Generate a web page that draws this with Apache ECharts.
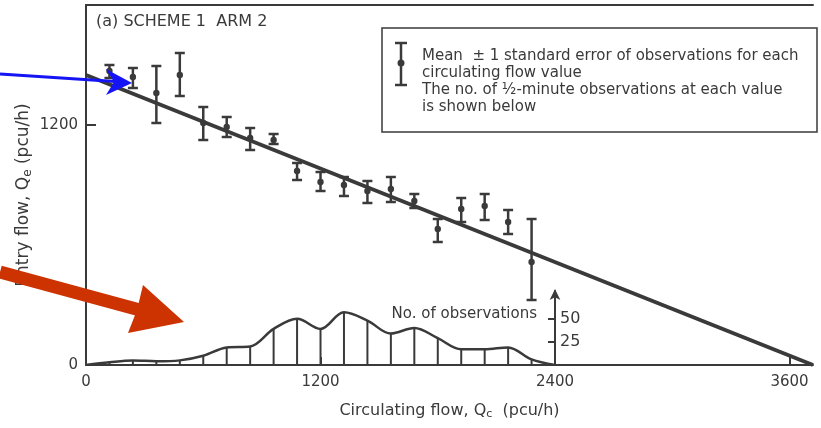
<!DOCTYPE html>
<html>
<head>
<meta charset="UTF-8">
<title>Scheme 1 Arm 2</title>
<script src="https://cdn.jsdelivr.net/npm/echarts@6/dist/echarts.min.js"></script>
</head>
<body style="margin:0;background:#fff">
<div id="chart" style="width:821px;height:428px;"></div>
<script>
// circulating flow values (pcu/h) with mean entry flow +- 1 s.e.
var flowC = [120, 240, 360, 480, 600, 720, 840, 960, 1080, 1200, 1320, 1440, 1560, 1680, 1800, 1920, 2040, 2160, 2280];
var meanE = [1470, 1440, 1360, 1450, 1210, 1190, 1135, 1125, 970, 915, 900, 870, 880, 820, 680, 780, 795, 715, 515];
var lowE  = [1435, 1385, 1210, 1345, 1125, 1140, 1075, 1105, 925, 870, 845, 810, 815, 785, 615, 715, 725, 655, 325];
var highE = [1500, 1485, 1495, 1560, 1290, 1240, 1185, 1155, 1010, 965, 940, 920, 940, 855, 730, 835, 855, 775, 730];

// number of half-minute observations at each value
var histC = [0, 120, 240, 360, 480, 600, 720, 840, 960, 1080, 1200, 1320, 1440, 1560, 1680, 1800, 1920, 2040, 2160, 2280, 2400];
var histN = [0, 3, 5, 4, 5, 10, 19, 20, 39, 50, 39, 57, 48, 34, 40, 29, 17, 17, 19, 6, 0];

// fitted straight line
var fitC = [0, 3720];
var fitE = [1450, 0];

var xTicks = [0, 1200, 2400, 3600];
var yTicks = [0, 1200];
var nTicks = [25, 50];

var ink = '#3a3a3a';
var font = 'DejaVu Sans';
var plain = function (v) { return String(v); };

var myChart = echarts.init(document.getElementById('chart'));

var errData = flowC.map(function (c, i) { return [c, lowE[i], highE[i], meanE[i]]; });
var fitData = fitC.map(function (c, i) { return [c, fitE[i]]; });
var histData = histC.map(function (c, i) { return [c, histN[i]]; });

var option = {
    animation: false,
    backgroundColor: '#fff',
    textStyle: { fontFamily: font, color: ink },
    title: {
        text: '(a) SCHEME 1  ARM 2',
        left: 96, top: 14, padding: 0,
        textStyle: { fontSize: 16, fontWeight: 'normal', color: ink, fontFamily: font }
    },
    grid: [
        { left: 86, right: 8, top: 5, bottom: 63 },
        { left: 86, right: 8, top: 291, bottom: 63 }
    ],
    xAxis: [{
        gridIndex: 0, type: 'value', min: 0, max: 3720, position: 'bottom',
        axisLine: { lineStyle: { color: ink, width: 2 } },
        axisTick: { inside: true, length: 8, customValues: [1200, 2400, 3600], lineStyle: { color: ink, width: 2 } },
        axisLabel: { customValues: xTicks, formatter: plain, fontSize: 15, color: ink, margin: 10 },
        splitLine: { show: false },
        name: 'Circulating flow, Q{s|c}  (pcu/h)',
        nameLocation: 'middle', nameGap: 37,
        nameTextStyle: { fontSize: 16, color: ink, rich: { s: { fontSize: 11, padding: [7, 0, 0, 0] } } }
    }, {
        gridIndex: 0, type: 'value', min: 0, max: 3720, position: 'top',
        axisLine: { lineStyle: { color: ink, width: 2 } },
        axisTick: { show: false }, axisLabel: { show: false }, splitLine: { show: false }
    }, {
        gridIndex: 1, type: 'value', min: 0, max: 3720, show: false
    }],
    yAxis: [{
        gridIndex: 0, type: 'value', min: 0, max: 1800,
        axisLine: { lineStyle: { color: ink, width: 2 } },
        axisTick: { inside: true, length: 10, customValues: [1200], lineStyle: { color: ink, width: 2 } },
        axisLabel: { customValues: yTicks, formatter: plain, fontSize: 15, color: ink, margin: 8 },
        splitLine: { show: false },
        name: 'Entry flow, Q{s|e} (pcu/h)',
        nameLocation: 'middle', nameGap: 52, nameMoveOverlap: false,
        nameTextStyle: { fontSize: 17, color: ink, padding: [0, 20, 0, 0], rich: { s: { fontSize: 12, padding: [8, 0, 0, 0] } } }
    }, {
        gridIndex: 1, type: 'value', min: 0, max: 80, position: 'left', offset: -469,
        axisLine: { show: true, symbol: ['none', 'arrow'], symbolSize: [8, 11], symbolOffset: [0, 2], lineStyle: { color: ink, width: 2 } },
        axisTick: { show: true, inside: false, length: 7, customValues: nTicks, lineStyle: { color: ink, width: 2 } },
        axisLabel: { show: true, inside: true, customValues: nTicks, fontSize: 16, color: ink, margin: 5 },
        splitLine: { show: false }
    }],
    series: [{
        type: 'line', xAxisIndex: 0, yAxisIndex: 0,
        data: fitData, symbol: 'none',
        lineStyle: { color: ink, width: 4 }, z: 2
    }, {
        type: 'custom', xAxisIndex: 0, yAxisIndex: 0,
        data: errData, z: 3,
        renderItem: function (params, api) {
            var lo = api.coord([api.value(0), api.value(1)]);
            var hi = api.coord([api.value(0), api.value(2)]);
            var m = api.coord([api.value(0), api.value(3)]);
            var cap = 5;
            var st = { stroke: ink, lineWidth: 2.5 };
            return {
                type: 'group',
                children: [
                    { type: 'line', shape: { x1: lo[0], y1: lo[1], x2: hi[0], y2: hi[1] }, style: st },
                    { type: 'line', shape: { x1: lo[0] - cap, y1: lo[1], x2: lo[0] + cap, y2: lo[1] }, style: st },
                    { type: 'line', shape: { x1: hi[0] - cap, y1: hi[1], x2: hi[0] + cap, y2: hi[1] }, style: st },
                    { type: 'circle', shape: { cx: m[0], cy: m[1], r: 3.2 }, style: { fill: ink } }
                ]
            };
        }
    }, {
        type: 'bar', xAxisIndex: 2, yAxisIndex: 1,
        data: histData, barWidth: 2,
        itemStyle: { color: ink }
    }, {
        type: 'line', xAxisIndex: 2, yAxisIndex: 1,
        data: histData, symbol: 'none', smooth: 0.35,
        lineStyle: { color: ink, width: 2.5 }
    }],
    graphic: [
        // legend box
        { type: 'rect', shape: { x: 382, y: 28, width: 435, height: 104 },
          style: { fill: '#fff', stroke: ink, lineWidth: 1.5 }, z: 10 },
        { type: 'line', shape: { x1: 401, y1: 43, x2: 401, y2: 85 }, style: { stroke: ink, lineWidth: 2.5 }, z: 11 },
        { type: 'line', shape: { x1: 395, y1: 43, x2: 407, y2: 43 }, style: { stroke: ink, lineWidth: 2.5 }, z: 11 },
        { type: 'line', shape: { x1: 395, y1: 85, x2: 407, y2: 85 }, style: { stroke: ink, lineWidth: 2.5 }, z: 11 },
        { type: 'circle', shape: { cx: 401, cy: 63, r: 3.5 }, style: { fill: ink }, z: 11 },
        { type: 'text', x: 422, y: 48, z: 11,
          style: {
              text: 'Mean  \u00b1 1 standard error of observations for each\ncirculating flow value\nThe no. of \u00bd-minute observations at each value\nis shown below',
              font: '15px ' + font, lineHeight: 17, fill: ink
          } },
        // histogram axis caption
        { type: 'text', x: 537, y: 307, z: 11,
          style: { text: 'No. of observations', font: '15px ' + font, fill: ink, align: 'right' } },
        // blue annotation arrow
        { type: 'line', shape: { x1: 0, y1: 74, x2: 115, y2: 81.5 }, style: { stroke: '#1414f5', lineWidth: 3 }, z: 20 },
        { type: 'polygon', shape: { points: [[132, 83], [106, 69], [114, 82], [106, 95]] }, style: { fill: '#1414f5' }, z: 20 },
        // red annotation arrow
        { type: 'line', shape: { x1: 0, y1: 272, x2: 138, y2: 309.5 }, style: { stroke: '#cc3300', lineWidth: 13 }, z: 20 },
        { type: 'polygon', shape: { points: [[143, 285], [184, 322], [128, 333], [137, 310]] }, style: { fill: '#cc3300' }, z: 20 }
    ]
};

myChart.setOption(option);
</script>
</body>
</html>
